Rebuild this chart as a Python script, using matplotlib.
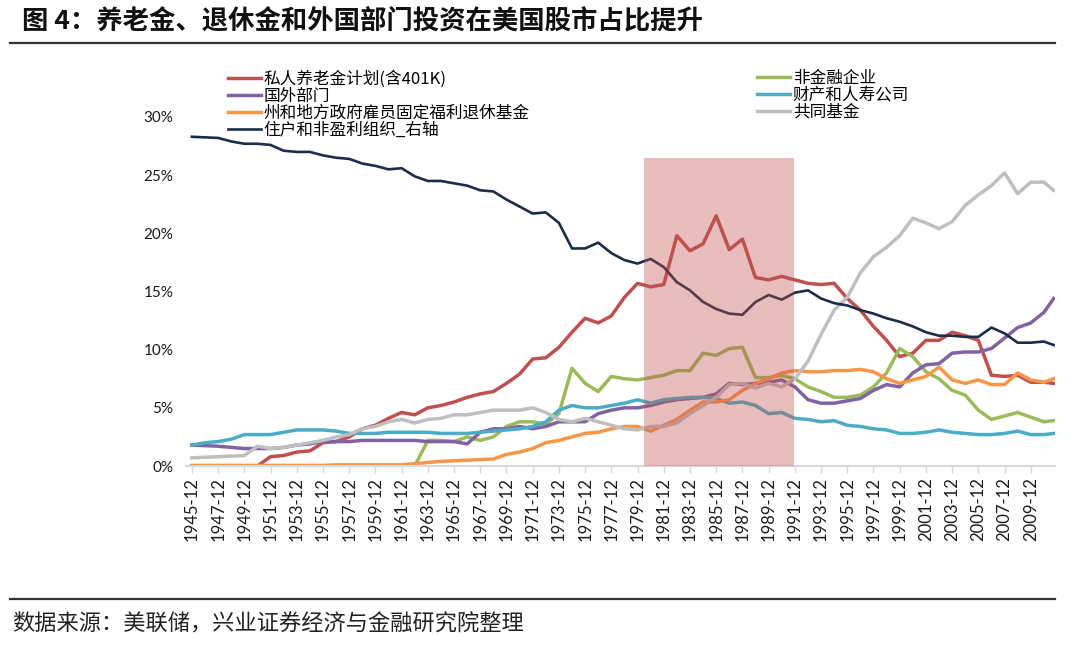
# 养老金、退休金和外国部门投资在美国股市占比
import matplotlib
matplotlib.use('Agg')
from matplotlib import pyplot as plt
from matplotlib.lines import Line2D

plt.rcParams['font.family'] = ['Lato', 'Noto Sans CJK SC', 'DejaVu Sans']

# year-end points (Dec of each year), last point is 2011Q3
years = list(range(1945, 2011)) + [2010.75]

# 私人养老金计划(含401K)
private = [0, 0, 0, 0, 0, 0, 0.8, 0.9, 1.2, 1.3,
           2.0, 2.1, 2.5, 3.2, 3.5, 4.1, 4.6, 4.4, 5.0, 5.2,
           5.5, 5.9, 6.2, 6.4, 7.1, 7.9, 9.2, 9.3, 10.2, 11.5,
           12.7, 12.3, 12.9, 14.5, 15.7, 15.4, 15.6, 19.8, 18.5, 19.1,
           21.5, 18.6, 19.5, 16.2, 16.0, 16.3, 16.0, 15.7, 15.6, 15.7,
           14.4, 13.4, 12.0, 10.8, 9.4, 9.7, 10.8, 10.8, 11.5, 11.2,
           10.8, 7.8, 7.7, 7.8, 7.2, 7.2, 7.1]
# 非金融企业
nonfin = [0, 0, 0, 0, 0, 0, 0, 0, 0, 0,
          0, 0, 0, 0, 0, 0, 0, 0, 2.2, 2.2,
          2.1, 2.5, 2.2, 2.5, 3.4, 3.8, 3.8, 3.6, 4.5, 8.4,
          7.1, 6.4, 7.7, 7.5, 7.4, 7.6, 7.8, 8.2, 8.2, 9.7,
          9.5, 10.1, 10.2, 7.6, 7.6, 7.8, 7.5, 6.8, 6.4, 5.9,
          5.9, 6.1, 6.8, 8.0, 10.1, 9.4, 8.1, 7.5, 6.5, 6.1,
          4.8, 4.0, 4.3, 4.6, 4.2, 3.8, 3.9]
# 国外部门
foreign = [1.8, 1.75, 1.7, 1.6, 1.5, 1.5, 1.5, 1.6, 1.8, 1.9,
           2.1, 2.1, 2.1, 2.2, 2.2, 2.2, 2.2, 2.2, 2.1, 2.1,
           2.1, 1.9, 2.9, 3.2, 3.2, 3.4, 3.2, 3.4, 3.8, 3.8,
           3.8, 4.5, 4.8, 5.0, 5.0, 5.2, 5.5, 5.7, 5.8, 5.9,
           6.2, 7.1, 7.0, 7.1, 7.2, 7.4, 6.8, 5.7, 5.4, 5.4,
           5.6, 5.8, 6.5, 7.0, 6.8, 8.0, 8.7, 8.8, 9.7, 9.8,
           9.8, 10.1, 11.0, 11.9, 12.3, 13.2, 14.4]
# 财产和人寿公司
insurance = [1.8, 2.0, 2.1, 2.3, 2.7, 2.7, 2.7, 2.9, 3.1, 3.1,
             3.1, 3.0, 2.8, 2.8, 2.8, 2.9, 2.9, 2.9, 2.9, 2.8,
             2.8, 2.8, 2.9, 3.0, 3.1, 3.2, 3.4, 3.8, 4.8, 5.2,
             5.0, 5.0, 5.2, 5.4, 5.7, 5.4, 5.7, 5.8, 5.9, 5.9,
             5.8, 5.4, 5.5, 5.2, 4.5, 4.6, 4.1, 4.0, 3.8, 3.9,
             3.5, 3.4, 3.2, 3.1, 2.8, 2.8, 2.9, 3.1, 2.9, 2.8,
             2.7, 2.7, 2.8, 3.0, 2.7, 2.7, 2.8]
# 州和地方政府雇员固定福利退休基金
state_local = [0.05, 0.05, 0.05, 0.05, 0.05, 0.05, 0.05, 0.05, 0.05, 0.05,
               0.05, 0.1, 0.1, 0.1, 0.1, 0.1, 0.1, 0.2, 0.3, 0.4,
               0.45, 0.5, 0.55, 0.6, 1.0, 1.2, 1.5, 2.0, 2.2, 2.5,
               2.8, 2.9, 3.2, 3.4, 3.4, 3.0, 3.5, 4.0, 4.8, 5.5,
               5.5, 5.7, 6.5, 7.1, 7.5, 8.0, 8.2, 8.1, 8.1, 8.2,
               8.2, 8.3, 8.1, 7.5, 7.1, 7.4, 7.7, 8.5, 7.4, 7.1,
               7.4, 7.0, 7.0, 8.0, 7.4, 7.2, 7.5]
# 共同基金
mutual = [0.7, 0.75, 0.8, 0.85, 0.9, 1.7, 1.5, 1.6, 1.8, 2.0,
          2.2, 2.5, 2.7, 3.2, 3.4, 3.8, 4.0, 3.7, 4.0, 4.1,
          4.4, 4.4, 4.6, 4.8, 4.8, 4.8, 5.0, 4.6, 4.0, 3.8,
          4.1, 3.8, 3.5, 3.2, 3.1, 3.4, 3.4, 3.7, 4.5, 5.2,
          5.9, 7.0, 7.1, 6.7, 7.1, 6.8, 7.5, 9.0, 11.3, 13.4,
          14.5, 16.6, 18.0, 18.8, 19.8, 21.3, 20.9, 20.4, 21.0, 22.4,
          23.3, 24.1, 25.2, 23.4, 24.4, 24.4, 23.7]
# 住户和非盈利组织_右轴
household = [28.3, 28.25, 28.2, 27.9, 27.7, 27.7, 27.6, 27.1, 27.0, 27.0,
             26.7, 26.5, 26.4, 26.0, 25.8, 25.5, 25.6, 24.9, 24.5, 24.5,
             24.3, 24.1, 23.7, 23.6, 22.9, 22.3, 21.7, 21.8, 20.9, 18.7,
             18.7, 19.2, 18.3, 17.7, 17.4, 17.8, 17.1, 15.8, 15.1, 14.1,
             13.5, 13.1, 13.0, 14.1, 14.7, 14.3, 14.9, 15.1, 14.4, 14.0,
             13.8, 13.4, 13.1, 12.7, 12.4, 12.0, 11.5, 11.2, 11.2, 11.1,
             11.1, 11.9, 11.4, 10.6, 10.6, 10.7, 10.4]

# shaded period
shade_x = [1979.5, 1990.9]
shade_top = 26.5

tick_years = list(range(1945, 2011, 2))
tick_labels = [f'{y}-12' for y in tick_years]

series = [
    ('私人养老金计划(含401K)', private, '#C0504D', 2.5),
    ('非金融企业', nonfin, '#9BBB59', 2.5),
    ('国外部门', foreign, '#8064A2', 2.5),
    ('财产和人寿公司', insurance, '#4BACC6', 2.5),
    ('州和地方政府雇员固定福利退休基金', state_local, '#F79646', 2.5),
    ('共同基金', mutual, '#BFBFBF', 2.5),
    ('住户和非盈利组织_右轴', household, '#1B2D4A', 1.9),
]

fig = plt.figure(figsize=(10.8, 6.46), dpi=100)
ax = fig.add_axes([186 / 1080, 1 - 466 / 646, (1055 - 186) / 1080, (466 - 117) / 646])

handles = {}
for name, vals, color, lw in series:
    line, = ax.plot(years, vals, color=color, lw=lw, solid_joinstyle='round', label=name)
    handles[name] = line

ax.fill_between(shade_x, 0, shade_top, color='#C0504D', alpha=0.37, lw=0, zorder=5)

ax.set_xlim(1944.55, 2010.85)
ax.set_ylim(0, 30)
ax.set_yticks(range(0, 31, 5))
ax.set_yticklabels([f'{v}%' for v in range(0, 31, 5)])
ax.set_xticks(tick_years)
ax.set_xticklabels(tick_labels, rotation=90)

for s in ['top', 'right', 'left']:
    ax.spines[s].set_visible(False)
ax.spines['bottom'].set_color('#D9D9D9')
ax.spines['bottom'].set_linewidth(1.5)
ax.tick_params(axis='y', length=0, labelsize=11, pad=9, labelcolor='#1a1a1a')
ax.tick_params(axis='x', length=5, width=1, color='#D9D9D9', labelsize=12, pad=3,
               labelcolor='#1a1a1a')

leg_kw = dict(frameon=False, handlelength=2.0, handletextpad=0.15,
              borderpad=0, borderaxespad=0, labelspacing=0.0,
              prop={'family': ['Noto Sans CJK SC', 'DejaVu Sans'], 'size': 12})
left_names = ['私人养老金计划(含401K)', '国外部门', '州和地方政府雇员固定福利退休基金', '住户和非盈利组织_右轴']
right_names = ['非金融企业', '财产和人寿公司', '共同基金']
fig.legend([handles[n] for n in left_names], left_names, loc='upper left',
           bbox_to_anchor=(228 / 1080, 1 - 70 / 646), **leg_kw)
fig.legend([handles[n] for n in right_names], right_names, loc='upper left',
           bbox_to_anchor=(757 / 1080, 1 - 70 / 646), **leg_kw)

# title, rules and source note
fig.text(22 / 1080, 1 - 21 / 646, '图 4：养老金、退休金和外国部门投资在美国股市占比提升',
         fontsize=19, fontweight='bold', va='center', ha='left',
         family=['Noto Sans CJK SC', 'DejaVu Sans'], color='#111111')
fig.add_artist(Line2D([10 / 1080, 1055 / 1080], [1 - 43 / 646] * 2, color='#333333', lw=1.6))
fig.add_artist(Line2D([10 / 1080, 1055 / 1080], [1 - 599 / 646] * 2, color='#333333', lw=1.6))
fig.text(12 / 1080, 1 - 624 / 646, '数据来源：美联储，兴业证券经济与金融研究院整理',
         fontsize=16, va='center', ha='left',
         family=['Noto Sans CJK SC', 'DejaVu Sans'], color='#222222')

fig.savefig('out.png', dpi=100)
